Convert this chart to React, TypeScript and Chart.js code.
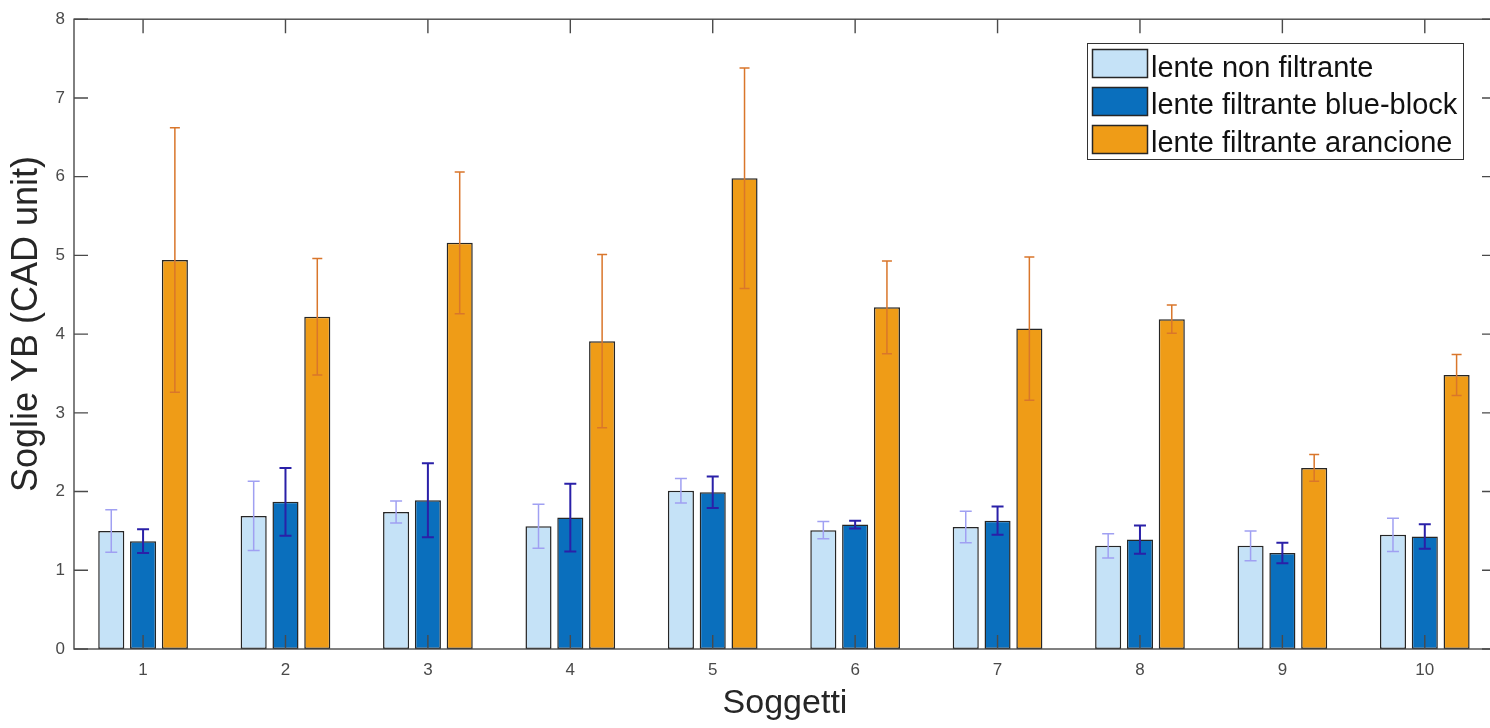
import React, { useEffect, useRef } from "react";
import { Chart, registerables } from "chart.js";

Chart.register(...registerables);

const subjects = [1, 2, 3, 4, 5, 6, 7, 8, 9, 10];
const seriesLabels = [
  "lente non filtrante",
  "lente filtrante blue-block",
  "lente filtrante arancione",
];
const nonFiltrante = [1.5, 1.69, 1.74, 1.56, 2.01, 1.51, 1.55, 1.31, 1.31, 1.45];
const nonFiltranteErr = [0.27, 0.44, 0.14, 0.28, 0.155, 0.11, 0.2, 0.155, 0.19, 0.21];
const blueBlock = [1.37, 1.87, 1.89, 1.67, 1.99, 1.58, 1.63, 1.39, 1.22, 1.43];
const blueBlockErr = [0.15, 0.43, 0.47, 0.43, 0.2, 0.05, 0.18, 0.18, 0.13, 0.155];
const arancione = [4.94, 4.22, 5.16, 3.91, 5.98, 4.34, 4.07, 4.19, 2.3, 3.48];
const arancioneErr = [1.68, 0.74, 0.9, 1.1, 1.4, 0.59, 0.91, 0.18, 0.17, 0.26];
const yTicks = [0, 1, 2, 3, 4, 5, 6, 7, 8];

const fillColors = ["#c5e2f7", "#0a6fbd", "#ef9c17"];
const errColors = ["#a0a0f2", "#2a20a8", "#d9762b"];
const errWidths = [1.5, 2, 1.5];
const errCaps = [12, 12, 10];
const edgeColor = "#262626";
const axisColor = "#4a4a4a";
const FONT = "'Liberation Sans', Arial, Helvetica, sans-serif";

const values = [nonFiltrante, blueBlock, arancione];
const errors = [nonFiltranteErr, blueBlockErr, arancioneErr];

const errorBarPlugin = {
  id: "errorBars",
  afterDatasetsDraw(chart: any) {
    const ctx = chart.ctx;
    const y = chart.scales.y;
    ctx.save();
    values.forEach((vals, di) => {
      const meta = chart.getDatasetMeta(di);
      meta.data.forEach((bar: any, i: number) => {
        const x = bar.x;
        const top = y.getPixelForValue(vals[i] + errors[di][i]);
        const bot = y.getPixelForValue(vals[i] - errors[di][i]);
        ctx.strokeStyle = errColors[di];
        ctx.lineWidth = errWidths[di];
        ctx.beginPath();
        ctx.moveTo(x, top);
        ctx.lineTo(x, bot);
        const h = errCaps[di] / 2;
        ctx.moveTo(x - h, top);
        ctx.lineTo(x + h, top);
        ctx.moveTo(x - h, bot);
        ctx.lineTo(x + h, bot);
        ctx.stroke();
      });
    });
    ctx.restore();
  },
};

const framePlugin = {
  id: "frame",
  afterDraw(chart: any) {
    const ctx = chart.ctx;
    const { left, right, top, bottom } = chart.chartArea;
    const xs = chart.scales.x;
    const ys = chart.scales.y;
    ctx.save();
    ctx.strokeStyle = axisColor;
    ctx.lineWidth = 1.4;
    ctx.strokeRect(left, top, right - left, bottom - top);
    ctx.beginPath();
    const tl = 14;
    yTicks.forEach((v) => {
      const py = ys.getPixelForValue(v);
      ctx.moveTo(left, py);
      ctx.lineTo(left + tl, py);
      ctx.moveTo(right, py);
      ctx.lineTo(right - tl, py);
    });
    subjects.forEach((s) => {
      const px = xs.getPixelForValue(s);
      ctx.moveTo(px, bottom);
      ctx.lineTo(px, bottom - tl);
      ctx.moveTo(px, top);
      ctx.lineTo(px, top + tl);
    });
    ctx.stroke();

    // axis titles
    ctx.fillStyle = "#262626";
    ctx.font = `34px ${FONT}`;
    ctx.textAlign = "center";
    ctx.textBaseline = "alphabetic";
    ctx.fillText("Soggetti", (left + right) / 2, 713);
    ctx.save();
    ctx.translate(37, 324);
    ctx.rotate(-Math.PI / 2);
    ctx.font = `36px ${FONT}`;
    ctx.fillText("Soglie YB (CAD unit)", 0, 0);
    ctx.restore();

    // legend
    const bx = 1087.5, by = 43.5, bw = 376, bh = 116;
    ctx.fillStyle = "#ffffff";
    ctx.fillRect(bx, by, bw, bh);
    ctx.strokeStyle = "#333333";
    ctx.lineWidth = 1;
    ctx.strokeRect(bx, by, bw, bh);
    const rowTops = [49.5, 87.5, 125.5];
    const baselines = [76.5, 114, 151.5];
    seriesLabels.forEach((lab, i) => {
      ctx.fillStyle = fillColors[i];
      ctx.fillRect(1092.5, rowTops[i], 55, 28);
      ctx.strokeStyle = edgeColor;
      ctx.lineWidth = 1.5;
      ctx.strokeRect(1092.5, rowTops[i], 55, 28);
      ctx.fillStyle = "#111111";
      ctx.font = `29px ${FONT}`;
      ctx.textAlign = "left";
      ctx.textBaseline = "alphabetic";
      ctx.fillText(lab, 1151, baselines[i]);
    });
    ctx.restore();
  },
};

export default function App() {
  const ref = useRef<HTMLCanvasElement | null>(null);
  useEffect(() => {
    if (!ref.current) return;
    const chart = new Chart(ref.current, {
      type: "bar",
      data: {
        datasets: seriesLabels.map((lab, di) => ({
          label: lab,
          data: subjects.map((s, i) => ({ x: s, y: values[di][i] })),
          backgroundColor: fillColors[di],
          borderColor: edgeColor,
          borderWidth: 1.5,
          borderSkipped: false,
          categoryPercentage: 0.67,
          barPercentage: 0.82,
        })),
      },
      options: {
        responsive: false,
        animation: false,
        devicePixelRatio: 1,
        layout: { padding: { left: 0, top: 15, right: 4, bottom: 0 } },
        plugins: { legend: { display: false }, tooltip: { enabled: false } },
        scales: {
          x: {
            type: "linear",
            min: 0.515,
            max: 10.5,
            offset: false,
            grid: { display: false, drawTicks: false },
            border: { display: false },
            ticks: {
              color: axisColor,
              font: { family: FONT, size: 17 },
              padding: 11,
              autoSkip: false,
              maxRotation: 0,
              callback: (v: any) => String(v),
            },
            afterBuildTicks: (s: any) => {
              s.ticks = subjects.map((v) => ({ value: v }));
            },
            afterFit: (s: any) => {
              s.height = 79;
            },
          },
          y: {
            min: 0,
            max: 8,
            grid: { display: false, drawTicks: false },
            border: { display: false },
            ticks: {
              stepSize: 1,
              color: axisColor,
              font: { family: FONT, size: 17 },
              padding: 9,
            },
            afterBuildTicks: (s: any) => {
              s.ticks = yTicks.map((v) => ({ value: v }));
            },
            afterFit: (s: any) => {
              s.width = 74;
            },
          },
        },
      } as any,
      plugins: [errorBarPlugin, framePlugin],
    });
    return () => chart.destroy();
  }, []);
  return (
    <div
      style={{
        position: "fixed",
        left: 0,
        top: 0,
        width: 1490,
        height: 728,
        overflow: "hidden",
        background: "#ffffff",
      }}
    >
      <canvas ref={ref} width={1500} height={728} style={{ width: 1500, height: 728, display: "block" }} />
    </div>
  );
}
